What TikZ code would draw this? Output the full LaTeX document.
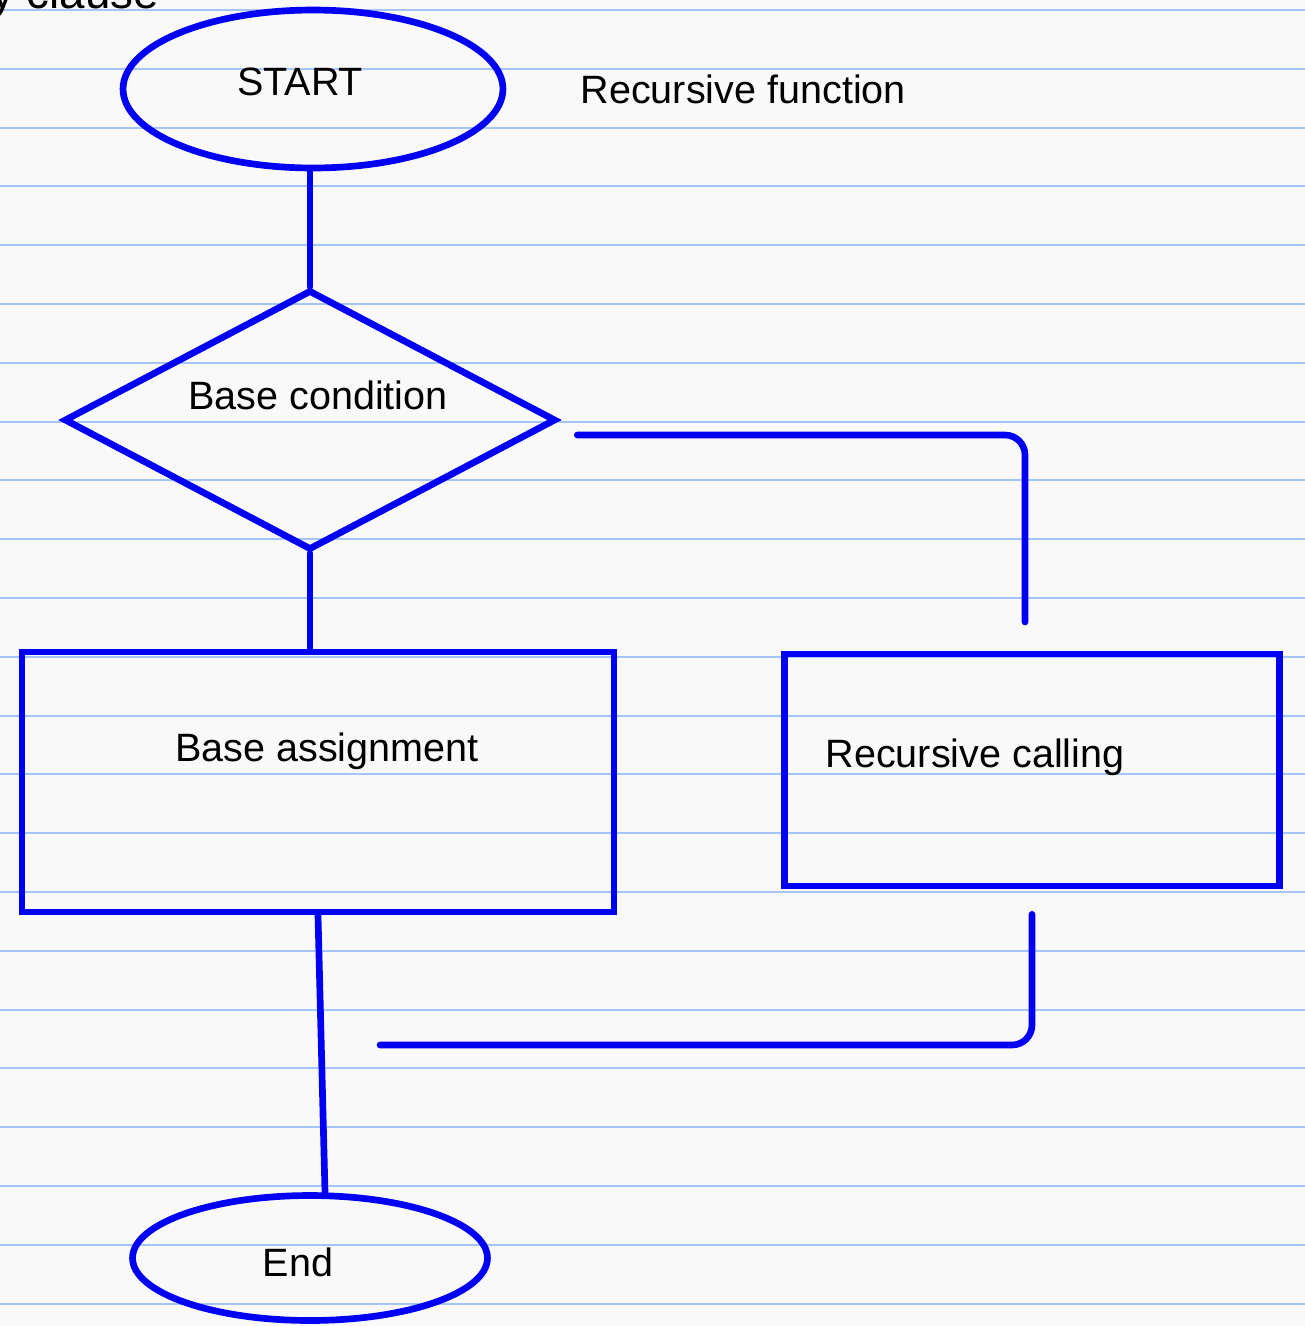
\documentclass[tikz,border=0pt]{standalone}
\usepackage{fontspec}
\setmainfont{Liberation Sans}
\usetikzlibrary{positioning,shapes.geometric}
\definecolor{ink}{RGB}{0,0,245}
\definecolor{ruling}{RGB}{165,196,248}
\definecolor{paper}{RGB}{249,249,249}
\tikzset{
    terminal/.style={
        ellipse,
        draw=ink,
        line width=3.8pt,
        inner sep=0pt
    },
    decision/.style={
        diamond,
        draw=ink,
        line width=3.8pt,
        inner sep=0pt
    },
    process/.style={
        rectangle,
        draw=ink,
        line width=3.8pt,
        inner sep=0pt
    },
    line/.style={
        draw=ink,
        line width=3.8pt,
        line cap=round,
        rounded corners=0.4cm
    },
    tag/.style={
        font=\fontsize{22.5}{27}\selectfont,
        inner sep=0pt
    }
}

\begin{document}
\begin{tikzpicture}[x=0.02cm, y=-0.02cm]

    % paper
    \useasboundingbox (0,0) rectangle (1305,1326);
    \fill[paper] (0,0) rectangle (1305,1326);
    \foreach \i in {0,...,22} {
        \draw[ruling, line width=1.1pt] (0,10+58.8*\i) -- (1305,10+58.8*\i);
    }
    \node[tag, font=\fontsize{26}{30}\selectfont, anchor=base west] (prev) at (-9,8) {y clause};

    % shapes
    \node[terminal, minimum width=7.6cm, minimum height=3.16cm] (start) at (313,89) {};
    \node[decision, minimum width=9.84cm, minimum height=5.2cm] (cond) at (310,420) {};
    \node[process, minimum width=11.84cm, minimum height=5.2cm] (base) at (318,782) {};
    \node[process, minimum width=9.9cm, minimum height=4.64cm] (rec) at (1032,770) {};
    \node[terminal, minimum width=7.1cm, minimum height=2.5cm] (end) at (310,1258) {};

    % texts
    \node[tag] (starttext) at (300,82) {START};
    \node[tag, right=1.48cm of start] (title) {Recursive function};
    \node[tag] (condtext) at (318,395) {Base condition};
    \node[tag] (basetext) at (327,751) {Base assignment};
    \node[tag] (rectext) at (975,757) {Recursive calling};
    \node[tag] (endtext) at (298,1262) {End};

    % connectors
    \coordinate (calltop) at (1025,622);
    \coordinate (backend) at (380,1045);
    \draw[line] (start.south -| cond.north) -- (cond.north);
    \draw[line] (cond.south) -- (cond.south |- base.north);
    \draw[line] ([xshift=0.36cm, yshift=-0.3cm]cond.east) -| (calltop);
    \draw[line] ([yshift=-0.5cm]rec.south) |- (backend);
    \draw[line] (base.south) -- ([xshift=0.3cm]end.north);

\end{tikzpicture}
\end{document}
